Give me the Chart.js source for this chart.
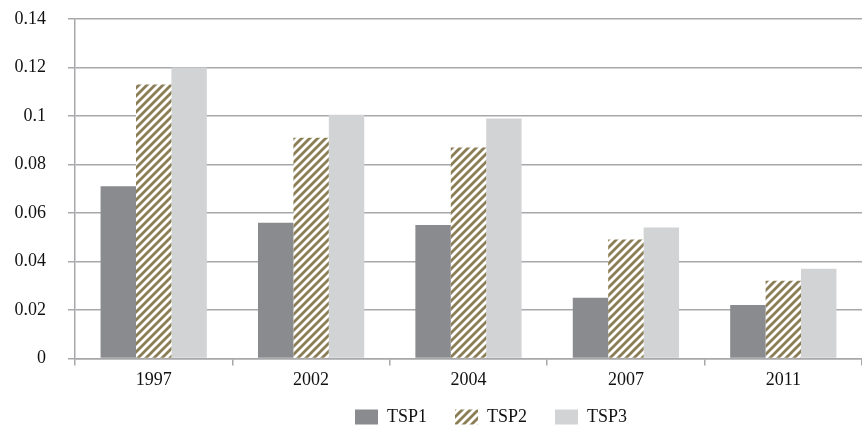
<!DOCTYPE html>
<html>
<head>
<meta charset="utf-8">
<script src="https://cdn.jsdelivr.net/npm/chart.js@4/dist/chart.umd.min.js"></script>
<style>
  html, body { margin: 0; padding: 0; background: #ffffff; }
  #wrap { width: 862px; height: 427px; }
</style>
</head>
<body>
<div id="wrap"><canvas id="c" width="862" height="427"></canvas></div>
<script>
// Survey years on the x axis
const years = ['1997', '2002', '2004', '2007', '2011'];

// Values per series
const tsp1 = [0.071, 0.056, 0.055, 0.025, 0.022];
const tsp2 = [0.113, 0.091, 0.087, 0.049, 0.032];
const tsp3 = [0.120, 0.1005, 0.099, 0.054, 0.037];

// Y axis tick values
const yTicks = [0, 0.02, 0.04, 0.06, 0.08, 0.1, 0.12, 0.14];

// Diagonal olive hatching used for TSP2
function makeStripes() {
  const size = 8;
  const p = document.createElement('canvas');
  p.width = size; p.height = size;
  const g = p.getContext('2d');
  g.fillStyle = '#ffffff';
  g.fillRect(0, 0, size, size);
  g.strokeStyle = '#8b7d55';
  g.lineWidth = 2.8;
  g.lineCap = 'square';
  for (const off of [-size, 0, size]) {
    g.beginPath();
    g.moveTo(off, size);
    g.lineTo(off + size, 0);
    g.stroke();
  }
  return document.getElementById('c').getContext('2d').createPattern(p, 'repeat');
}

const serif = "'Liberation Serif', 'Times New Roman', serif";
const gridColor = '#a8a8ab';

// Places the legend row below the axis, slightly right of centre
const legendPlacement = {
  id: 'legendPlacement',
  afterLayout(chart) {
    const lg = chart.legend;
    if (!lg) return;
    lg.top = 380;
    lg.bottom = chart.height;
    lg.left += 60;
    lg.right += 60;
  }
};

new Chart(document.getElementById('c'), {
  type: 'bar',
  data: {
    labels: years,
    datasets: [
      { label: 'TSP1', data: tsp1, backgroundColor: '#8a8b8e' },
      { label: 'TSP2', data: tsp2, backgroundColor: makeStripes() },
      { label: 'TSP3', data: tsp3, backgroundColor: '#d2d3d5' }
    ]
  },
  plugins: [legendPlacement],
  options: {
    responsive: false,
    animation: false,
    devicePixelRatio: 1,
    layout: { padding: { top: 19, right: 0, left: 0, bottom: 2 } },
    datasets: {
      bar: { barPercentage: 1.0, categoryPercentage: 0.675 }
    },
    plugins: {
      tooltip: { enabled: false },
      legend: {
        position: 'bottom',
        maxHeight: 30,
        labels: {
          font: { family: serif, size: 18 },
          color: '#111111',
          boxWidth: 23,
          boxHeight: 15,
          padding: 28
        }
      }
    },
    scales: {
      x: {
        grid: {
          offset: true,
          drawOnChartArea: false,
          drawTicks: true,
          tickLength: 7,
          color: gridColor,
          lineWidth: 1.5
        },
        border: { color: gridColor, width: 1.5 },
        ticks: {
          font: { family: serif, size: 18 },
          color: '#111111',
          padding: 4
        }
      },
      y: {
        min: 0,
        max: 0.14,
        afterBuildTicks: (axis) => { axis.ticks = yTicks.map(v => ({ value: v })); },
        afterFit: (axis) => { axis.width = 75; axis.paddingTop = 0; axis.paddingBottom = 0; },
        grid: {
          color: gridColor,
          lineWidth: 1.5,
          tickLength: 7
        },
        border: { color: gridColor, width: 1.5 },
        ticks: {
          font: { family: serif, size: 18 },
          color: '#111111',
          padding: 22,
          callback: (v) => String(Math.round(v * 100) / 100)
        }
      }
    }
  }
});
</script>
</body>
</html>
